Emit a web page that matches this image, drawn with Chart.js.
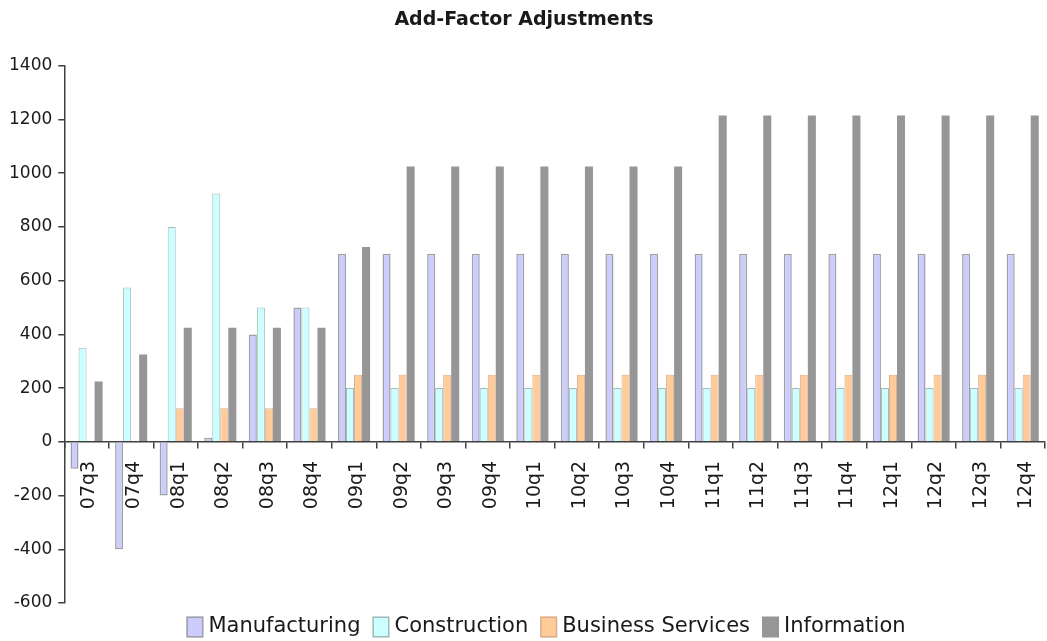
<!DOCTYPE html>
<html>
<head>
<meta charset="utf-8">
<script src="https://cdn.jsdelivr.net/npm/chart.js@4/dist/chart.umd.min.js"></script>
<style>
  html, body { margin: 0; padding: 0; background: #fff; }
  #wrap { width: 1047px; height: 641px; position: relative; }
</style>
</head>
<body>
<div id="wrap"><canvas id="c" width="1047" height="641"></canvas></div>
<script>
// Quarterly add-factor adjustments by sector
const quarters = ['07q3','07q4','08q1','08q2','08q3','08q4',
  '09q1','09q2','09q3','09q4','10q1','10q2','10q3','10q4',
  '11q1','11q2','11q3','11q4','12q1','12q2','12q3','12q4'];
const manufacturing = [-100,-400,-200,15,400,500,
  700,700,700,700,700,700,700,700,700,700,700,700,700,700,700,700];
const construction = [350,575,800,925,500,500,
  200,200,200,200,200,200,200,200,200,200,200,200,200,200,200,200];
const businessServices = [0,0,125,125,125,125,
  250,250,250,250,250,250,250,250,250,250,250,250,250,250,250,250];
const information = [225,325,425,425,425,425,
  725,1025,1025,1025,1025,1025,1025,1025,1215,1215,1215,1215,1215,1215,1215,1215];
const yTicks = [-600,-400,-200,0,200,400,600,800,1000,1200,1400];

const FONT = '"DejaVu Sans", sans-serif';
const TEXT = '#1a1a1a';
const AXIS = '#404040';

function series(label, data, fill, border, bw) {
  return { label, data, backgroundColor: fill, borderColor: border, borderWidth: bw,
           barPercentage: 1.0, categoryPercentage: 0.72 };
}

// Compact legend row under the plot: square swatch followed closely by its label
const swatchLegend = {
  id: 'swatchLegend',
  afterDraw(chart) {
    const ctx = chart.ctx;
    const boxW = 17, boxH = 21, gapText = 5, gapItem = 12;
    ctx.save();
    ctx.font = '21px ' + FONT;
    ctx.textBaseline = 'middle';
    const items = chart.data.datasets.map(ds => ({
      ds, w: ctx.measureText(ds.label).width
    }));
    const total = items.reduce((s, it) => s + boxW + gapText + it.w, 0) + gapItem * (items.length - 1);
    let x = 546 - total / 2;
    const cy = 627;
    items.forEach(it => {
      const ds = it.ds;
      ctx.fillStyle = ds.backgroundColor;
      ctx.fillRect(x, cy - boxH / 2, boxW, boxH);
      if (ds.borderWidth > 0) {
        ctx.strokeStyle = ds.borderColor;
        ctx.lineWidth = 1.5;
        ctx.strokeRect(x + 0.75, cy - boxH / 2 + 0.75, boxW - 1.5, boxH - 1.5);
      }
      ctx.fillStyle = TEXT;
      ctx.fillText(ds.label, x + boxW + gapText, cy);
      x += boxW + gapText + it.w + gapItem;
    });
    ctx.restore();
  }
};

new Chart(document.getElementById('c'), {
  type: 'bar',
  data: {
    labels: quarters,
    datasets: [
      series('Manufacturing', manufacturing, '#ccccff', '#a0a0a0', 1.5),
      series('Construction', construction, '#ccffff', '#a8b8b8', 1),
      series('Business Services', businessServices, '#ffcc99', '#d8b090', 1),
      series('Information', information, '#969696', '#969696', 0)
    ]
  },
  plugins: [swatchLegend],
  options: {
    responsive: false,
    animation: false,
    devicePixelRatio: 1,
    layout: { padding: { left: 3, right: 2, top: 0, bottom: 38 } },
    plugins: {
      title: {
        display: true,
        text: 'Add-Factor Adjustments',
        color: TEXT,
        font: { family: FONT, size: 19, weight: 'bold' },
        padding: { top: 9, bottom: 34 }
      },
      legend: { display: false },
      tooltip: { enabled: false }
    },
    scales: {
      y: {
        min: -600, max: 1400,
        afterBuildTicks: (s) => { s.ticks = yTicks.map(v => ({ value: v })); },
        border: { display: true, color: AXIS, width: 1.5 },
        grid: { drawOnChartArea: false, drawTicks: true, tickLength: 6, color: AXIS, lineWidth: 1.5 },
        ticks: { color: TEXT, font: { family: FONT, size: 17 }, padding: 6,
                 callback: (v) => String(v) }
      },
      x: {
        position: { y: 0 },
        afterFit: (s) => { s.paddingLeft = 0; s.paddingRight = 0; },
        border: { display: true, color: AXIS, width: 1.5 },
        grid: { offset: true, drawOnChartArea: false, drawTicks: true, tickLength: 6, color: AXIS, lineWidth: 1.5 },
        ticks: { color: TEXT, font: { family: FONT, size: 19 }, minRotation: 90, maxRotation: 90,
                 padding: 13, labelOffset: 3, autoSkip: false }
      }
    }
  }
});
</script>
</body>
</html>
